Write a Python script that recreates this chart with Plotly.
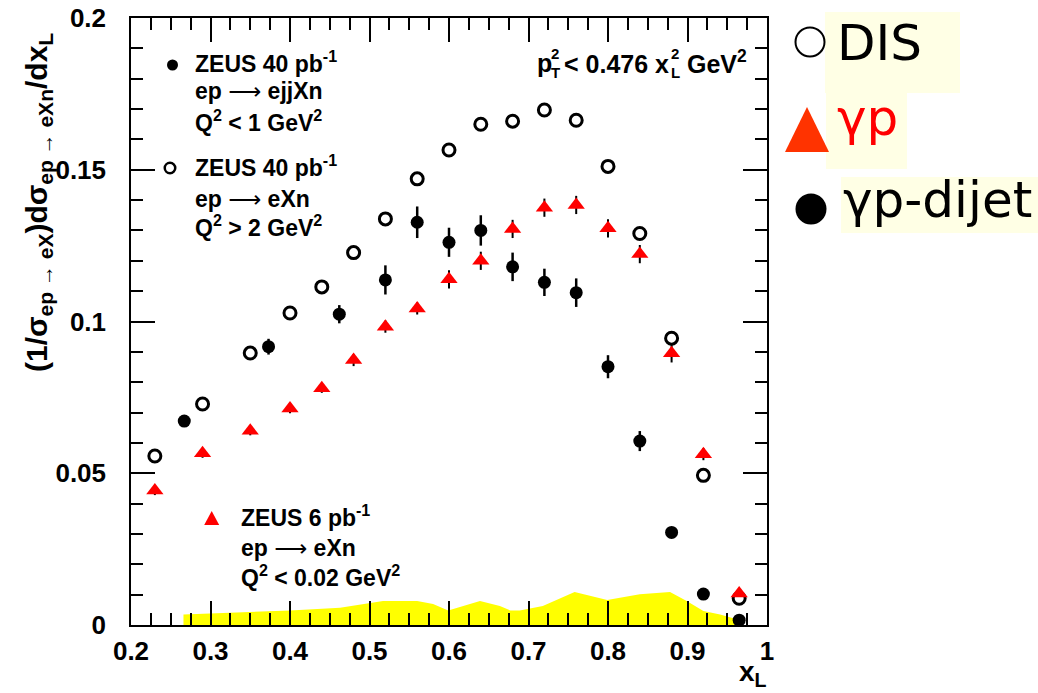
import plotly.graph_objects as go

# ---- data -------------------------------------------------------------
# DIS: ZEUS 40 pb^-1, ep -> eXn, Q^2 > 2 GeV^2
dis_x = [0.23, 0.29, 0.35, 0.40, 0.44, 0.48, 0.52, 0.56, 0.60, 0.64,
         0.68, 0.72, 0.76, 0.80, 0.84, 0.88, 0.92, 0.965]
dis_y = [0.0557, 0.0728, 0.0896, 0.1028, 0.1114, 0.1227, 0.1338, 0.1470,
         0.1565, 0.1650, 0.1660, 0.1697, 0.1663, 0.1511, 0.1290, 0.0945,
         0.0493, 0.0088]

# photoproduction: ZEUS 6 pb^-1, ep -> eXn, Q^2 < 0.02 GeV^2
gp_x = [0.23, 0.29, 0.35, 0.40, 0.44, 0.48, 0.52, 0.56, 0.60, 0.64,
        0.68, 0.72, 0.76, 0.80, 0.84, 0.88, 0.92, 0.965]
gp_y = [0.0443, 0.0566, 0.0640, 0.0713, 0.0780, 0.0873, 0.0983, 0.1043,
        0.1139, 0.1200, 0.1305, 0.1375, 0.1384, 0.1307, 0.1222, 0.0895,
        0.0563, 0.0104]
gp_err = [0.0015, 0.0015, 0.0015, 0.0015, 0.0015, 0.002, 0.002, 0.002,
          0.003, 0.003, 0.003, 0.003, 0.003, 0.003, 0.003, 0.003,
          0.002, 0.001]

# photoproduced dijets: ZEUS 40 pb^-1, ep -> ejjXn, Q^2 < 1 GeV^2
dj_x = [0.267, 0.373, 0.462, 0.52, 0.56, 0.60, 0.64, 0.68, 0.72, 0.76,
        0.80, 0.84, 0.88, 0.92, 0.965]
dj_y = [0.0672, 0.0917, 0.1024, 0.1137, 0.1327, 0.1261, 0.1300, 0.1180,
        0.1129, 0.1095, 0.0851, 0.0606, 0.0305, 0.0102, 0.0016]
dj_err = [0.001, 0.0026, 0.003, 0.0048, 0.0052, 0.0048, 0.005, 0.0047,
          0.0045, 0.0047, 0.0038, 0.0033, 0.001, 0.0008, 0.0005]

# systematic uncertainty band
band_x = [0.266, 0.329, 0.40, 0.463, 0.496, 0.517, 0.56, 0.58, 0.599,
          0.639, 0.664, 0.677, 0.689, 0.718, 0.758, 0.799, 0.84, 0.878,
          0.899, 0.92, 0.941, 0.962, 0.968]
band_h = [0.0035, 0.0040, 0.0048, 0.0057, 0.0070, 0.0079, 0.0079, 0.0069,
          0.0048, 0.0079, 0.0063, 0.0048, 0.0048, 0.0063, 0.0109, 0.0082,
          0.0101, 0.0109, 0.0079, 0.0046, 0.0035, 0.0019, 0.0]

x_ticks = [0.2, 0.3, 0.4, 0.5, 0.6, 0.7, 0.8, 0.9, 1.0]
x_labels = ["0.2", "0.3", "0.4", "0.5", "0.6", "0.7", "0.8", "0.9", "1"]
y_ticks = [0, 0.05, 0.1, 0.15, 0.2]
y_labels = ["0", "0.05", "0.1", "0.15", "0.2"]

# ---- layout geometry (pixels) ----------------------------------------
W, H = 1038, 693
L, R, T, B = 131, 767, 18, 625


def fx(xp):
    return (xp - L) / (R - L)


def fy(yp):
    return (B - yp) / (B - T)


HELV = "Liberation Sans, Arial, Helvetica, sans-serif"
COMIC = "Comic Sans MS, DejaVu Sans, sans-serif"
ARROW = ('<span style="font-family:DejaVu Sans;font-weight:normal">'
         '\u27f6</span>')

fig = go.Figure()

fig.add_trace(go.Scatter(
    x=band_x, y=band_h, mode="lines", fill="tozeroy",
    fillcolor="#FFFF00", line=dict(width=0, color="#FFFF00"),
    hoverinfo="skip", showlegend=False))

fig.add_trace(go.Scatter(
    x=dis_x, y=dis_y, mode="markers", showlegend=False, cliponaxis=False,
    marker=dict(symbol="circle-open", size=12, color="black",
                line=dict(width=3, color="black"))))

fig.add_trace(go.Scatter(
    x=gp_x, y=gp_y, mode="markers", showlegend=False, cliponaxis=False,
    error_y=dict(type="data", array=gp_err, color="black",
                 thickness=2, width=0),
    marker=dict(symbol="triangle-up", size=15, color="#FF0000",
                line=dict(width=0))))

fig.add_trace(go.Scatter(
    x=dj_x, y=dj_y, mode="markers", showlegend=False, cliponaxis=False,
    error_y=dict(type="data", array=dj_err, color="black",
                 thickness=2.5, width=0),
    marker=dict(symbol="circle", size=13, color="black",
                line=dict(width=0))))

axis_font = dict(family=HELV, size=26, color="black", weight="bold")

fig.update_xaxes(
    range=[0.2, 1.0], tickmode="array", tickvals=x_ticks, ticktext=x_labels,
    ticks="inside", ticklen=24, tickwidth=1.5, tickcolor="black",
    minor=dict(tickmode="linear", tick0=0.2, dtick=0.025, ticks="inside",
               ticklen=12, tickwidth=1.5, tickcolor="black", showgrid=False),
    showline=True, linecolor="black", linewidth=1.5, mirror="allticks",
    showgrid=False, zeroline=False, tickfont=axis_font,
    ticklabelstandoff=2, automargin=False)

fig.update_yaxes(
    range=[0, 0.2], tickmode="array", tickvals=y_ticks, ticktext=y_labels,
    ticks="inside", ticklen=24, tickwidth=1.5, tickcolor="black",
    minor=dict(tickmode="linear", tick0=0, dtick=0.01, ticks="inside",
               ticklen=12, tickwidth=1.5, tickcolor="black", showgrid=False),
    showline=True, linecolor="black", linewidth=1.5, mirror="allticks",
    showgrid=False, zeroline=False, tickfont=axis_font,
    ticklabelstandoff=18, automargin=False)

ann = []


def text(s, xp, yp, size=23, color="black", family=HELV, weight="bold",
         xanchor="left", yanchor="middle", angle=0):
    ann.append(dict(text=s, x=fx(xp), y=fy(yp), xref="paper", yref="paper",
                    xanchor=xanchor, yanchor=yanchor, showarrow=False,
                    textangle=angle, borderpad=0,
                    font=dict(family=family, size=size, color=color,
                              weight=weight)))


def line(s, xp, baseline, size=23, **kw):
    # place a text by its baseline: the box bottom sits one descent below
    text(s, xp, baseline + 0.23 * size, size=size, yanchor="bottom", **kw)


# axis titles
text("(1/σ<sub>ep → eX</sub>)dσ<sub>ep → eXn</sub>/dx<sub>L</sub>",
     38, 203, size=30, xanchor="center", angle=-90)
text("x<sub>L</sub>", 768, 673, size=28, xanchor="right")

# in-frame legend text
line("ZEUS 40 pb<sup>-1</sup>", 194, 73)
line("ep " + ARROW + " ejjXn", 194, 100)
line("Q<sup>2</sup> < 1 GeV<sup>2</sup>", 194, 132)
line("ZEUS 40 pb<sup>-1</sup>", 194, 177)
line("ep " + ARROW + " eXn", 194, 208)
line("Q<sup>2</sup> > 2 GeV<sup>2</sup>", 194, 237)
line("ZEUS 6 pb<sup>-1</sup>", 240, 527)
line("ep " + ARROW + " eXn", 240, 557)
line("Q<sup>2</sup> < 0.02 GeV<sup>2</sup>", 240, 587)

# kinematic cut, with stacked sub/superscripts
line("p", 536, 72, size=25)
line("2", 550, 60, size=15)
line("T", 550, 79, size=15)
line("< 0.476 x", 563, 73, size=25)
line("2", 670, 60, size=15)
line("L", 670, 79, size=15)
line("GeV<sup>2</sup>", 686, 73, size=25)

# side legend labels
text("DIS", 836, 43, size=50, family=COMIC, weight="normal")
text("γp", 836, 118, size=50, family=COMIC, weight="normal", color="#FF0000")
text("γp-dijet", 842, 200, size=50, family=COMIC, weight="normal")

fig.update_layout(annotations=ann)

shapes = []


def circle(cx, cy, d, fill, lw=0, layer="above"):
    shapes.append(dict(type="circle", xref="paper", yref="paper",
                       x0=fx(cx - d / 2), x1=fx(cx + d / 2),
                       y0=fy(cy + d / 2), y1=fy(cy - d / 2),
                       fillcolor=fill, layer=layer,
                       line=dict(width=lw, color="black")))


def triangle(cx, top, bottom, half_w, fill):
    path = "M {} {} L {} {} L {} {} Z".format(
        fx(cx - half_w), fy(bottom), fx(cx + half_w), fy(bottom),
        fx(cx), fy(top))
    shapes.append(dict(type="path", xref="paper", yref="paper", path=path,
                       fillcolor=fill, line=dict(width=0), layer="above"))


def box(x0, y0, x1, y1):
    shapes.append(dict(type="rect", xref="paper", yref="paper",
                       x0=fx(x0), x1=fx(x1), y0=fy(y1), y1=fy(y0),
                       fillcolor="#FFFFE5", line=dict(width=0),
                       layer="below"))


# in-frame legend markers
circle(172.5, 65, 11, "black")
circle(170, 168, 10.5, "rgba(0,0,0,0)", lw=2.5)
triangle(211.7, 511, 525, 7.5, "#FF0000")

# side legend
box(825, 12, 960, 93)
box(826, 87, 907, 169)
box(841, 177, 1038, 233)
circle(810, 42, 29, "white", lw=2)
triangle(807, 107, 152, 22, "#FF3300")
circle(811, 209, 31, "black")

fig.update_layout(
    shapes=shapes,
    width=W, height=H, autosize=False,
    margin=dict(l=L, r=W - R, t=T, b=H - B, pad=0, autoexpand=False),
    paper_bgcolor="white", plot_bgcolor="white",
    showlegend=False)

fig.write_html("out.html")
